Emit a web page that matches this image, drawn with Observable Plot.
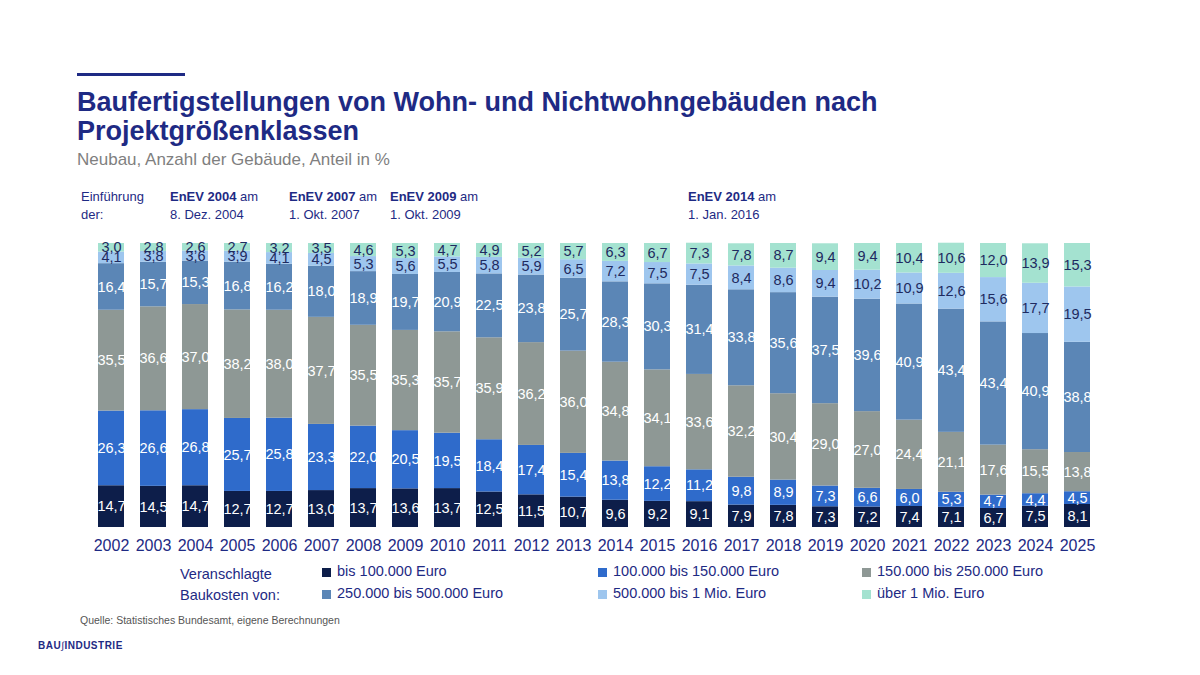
<!DOCTYPE html>
<html><head><meta charset="utf-8">
<script src="https://cdn.jsdelivr.net/npm/d3@7"></script>
<script src="https://cdn.jsdelivr.net/npm/@observablehq/plot@0.6"></script>
<style>
body{margin:0;width:1200px;height:675px;background:#fff;font-family:"Liberation Sans",Arial,sans-serif;position:relative;overflow:hidden}
.a{position:absolute;white-space:nowrap}
.t{color:#1e2a84;font-weight:bold;font-size:27px;line-height:29px;left:77px;top:88px}
.s{color:#7f7f7f;font-size:17px;left:77px;top:150px}
.n{font-size:13px;color:#1e2a84;line-height:18px;top:188px}
.lg{font-size:14.5px;color:#1e2a84}
.sw{position:absolute;width:9px;height:9px}
</style></head><body>
<div class="a" style="left:77px;top:73px;width:108px;height:3px;background:#1e2a84"></div>
<div class="a t">Baufertigstellungen von Wohn- und Nichtwohngebäuden nach<br>Projektgrößenklassen</div>
<div class="a s">Neubau, Anzahl der Gebäude, Anteil in %</div>
<div class="a n" style="left:81px">Einführung<br>der:</div>
<div class="a n" style="left:170px"><b>EnEV 2004</b> am<br>8. Dez. 2004</div>
<div class="a n" style="left:289px"><b>EnEV 2007</b> am<br>1. Okt. 2007</div>
<div class="a n" style="left:390px"><b>EnEV 2009</b> am<br>1. Okt. 2009</div>
<div class="a n" style="left:688px"><b>EnEV 2014</b> am<br>1. Jan. 2016</div>
<div id="chart" class="a" style="left:0;top:230px"></div>
<div class="a lg" style="left:180px;top:564px;line-height:21px">Veranschlagte<br>Baukosten von:</div>
<div id="legend"></div>
<div class="a" style="left:80px;top:614px;font-size:10.5px;color:#555">Quelle: Statistisches Bundesamt, eigene Berechnungen</div>
<div class="a" style="left:38px;top:640px;font-size:10px;font-weight:bold;color:#1e2a84;letter-spacing:0.5px">BAU<span style="font-weight:normal">∫</span>INDUSTRIE</div>
<script>
const years=d3.range(2002,2026).map(String);
const cats=["bis 100.000 Euro","100.000 bis 150.000 Euro","150.000 bis 250.000 Euro","250.000 bis 500.000 Euro","500.000 bis 1 Mio. Euro","über 1 Mio. Euro"];
const colors=["#0d1e4a","#2f6bcb","#8e9895","#5b86b6","#9ec6ee","#a4e2d0"];
const textColors=["#fff","#fff","#fff","#fff","#1e2a60","#1e2a60"];
const s1=[14.7,14.5,14.7,12.7,12.7,13.0,13.7,13.6,13.7,12.5,11.5,10.7,9.6,9.2,9.1,7.9,7.8,7.3,7.2,7.4,7.1,6.7,7.5,8.1];
const s2=[26.3,26.6,26.8,25.7,25.8,23.3,22.0,20.5,19.5,18.4,17.4,15.4,13.8,12.2,11.2,9.8,8.9,7.3,6.6,6.0,5.3,4.7,4.4,4.5];
const s3=[35.5,36.6,37.0,38.2,38.0,37.7,35.5,35.3,35.7,35.9,36.2,36.0,34.8,34.1,33.6,32.2,30.4,29.0,27.0,24.4,21.1,17.6,15.5,13.8];
const s4=[16.4,15.7,15.3,16.8,16.2,18.0,18.9,19.7,20.9,22.5,23.8,25.7,28.3,30.3,31.4,33.8,35.6,37.5,39.6,40.9,43.4,43.4,40.9,38.8];
const s5=[4.1,3.8,3.6,3.9,4.1,4.5,5.3,5.6,5.5,5.8,5.9,6.5,7.2,7.5,7.5,8.4,8.6,9.4,10.2,10.9,12.6,15.6,17.7,19.5];
const s6=[3.0,2.8,2.6,2.7,3.2,3.5,4.6,5.3,4.7,4.9,5.2,5.7,6.3,6.7,7.3,7.8,8.7,9.4,9.4,10.4,10.6,12.0,13.9,15.3];
const series=[s1,s2,s3,s4,s5,s6];
const data=[];
series.forEach((s,ci)=>s.forEach((v,i)=>data.push({year:years[i],cat:cats[ci],ci,value:v})));
const fmt=v=>v.toFixed(1).replace(".",",");
const chart=Plot.plot({
  width:1200,height:335,marginTop:13,marginBottom:38,marginLeft:74,marginRight:85,
  x:{domain:years,padding:0.37,label:null,tickSize:0,tickPadding:12},
  y:{domain:[0,100],axis:null},
  color:{domain:cats,range:colors},
  style:{fontFamily:"Liberation Sans, Arial, sans-serif",fontSize:"16px",color:"#1e2a84"},
  marks:[
    Plot.barY(data,{x:"year",y:"value",fill:"cat",z:"cat",order:cats}),
    Plot.text(data,Plot.stackY({x:"year",y:"value",z:"cat",order:cats,text:d=>fmt(d.value),fill:d=>textColors[d.ci],fontSize:14.5}))
  ]
});
chart.querySelectorAll("[aria-label='x-axis tick label'] text").forEach(t=>t.setAttribute("fill","#1e2a84"));
document.getElementById("chart").appendChild(chart);
const pos=[[322,563],[598,563],[862,563],[322,585],[598,585],[862,585]];
const lg=document.getElementById("legend");
cats.forEach((c,i)=>{
  const [x,y]=pos[i];
  lg.insertAdjacentHTML("beforeend",`<div class="sw" style="left:${x}px;top:${y+5}px;background:${colors[i]}"></div><div class="a lg" style="left:${x+15}px;top:${y}px">${c}</div>`);
});
</script></body></html>
